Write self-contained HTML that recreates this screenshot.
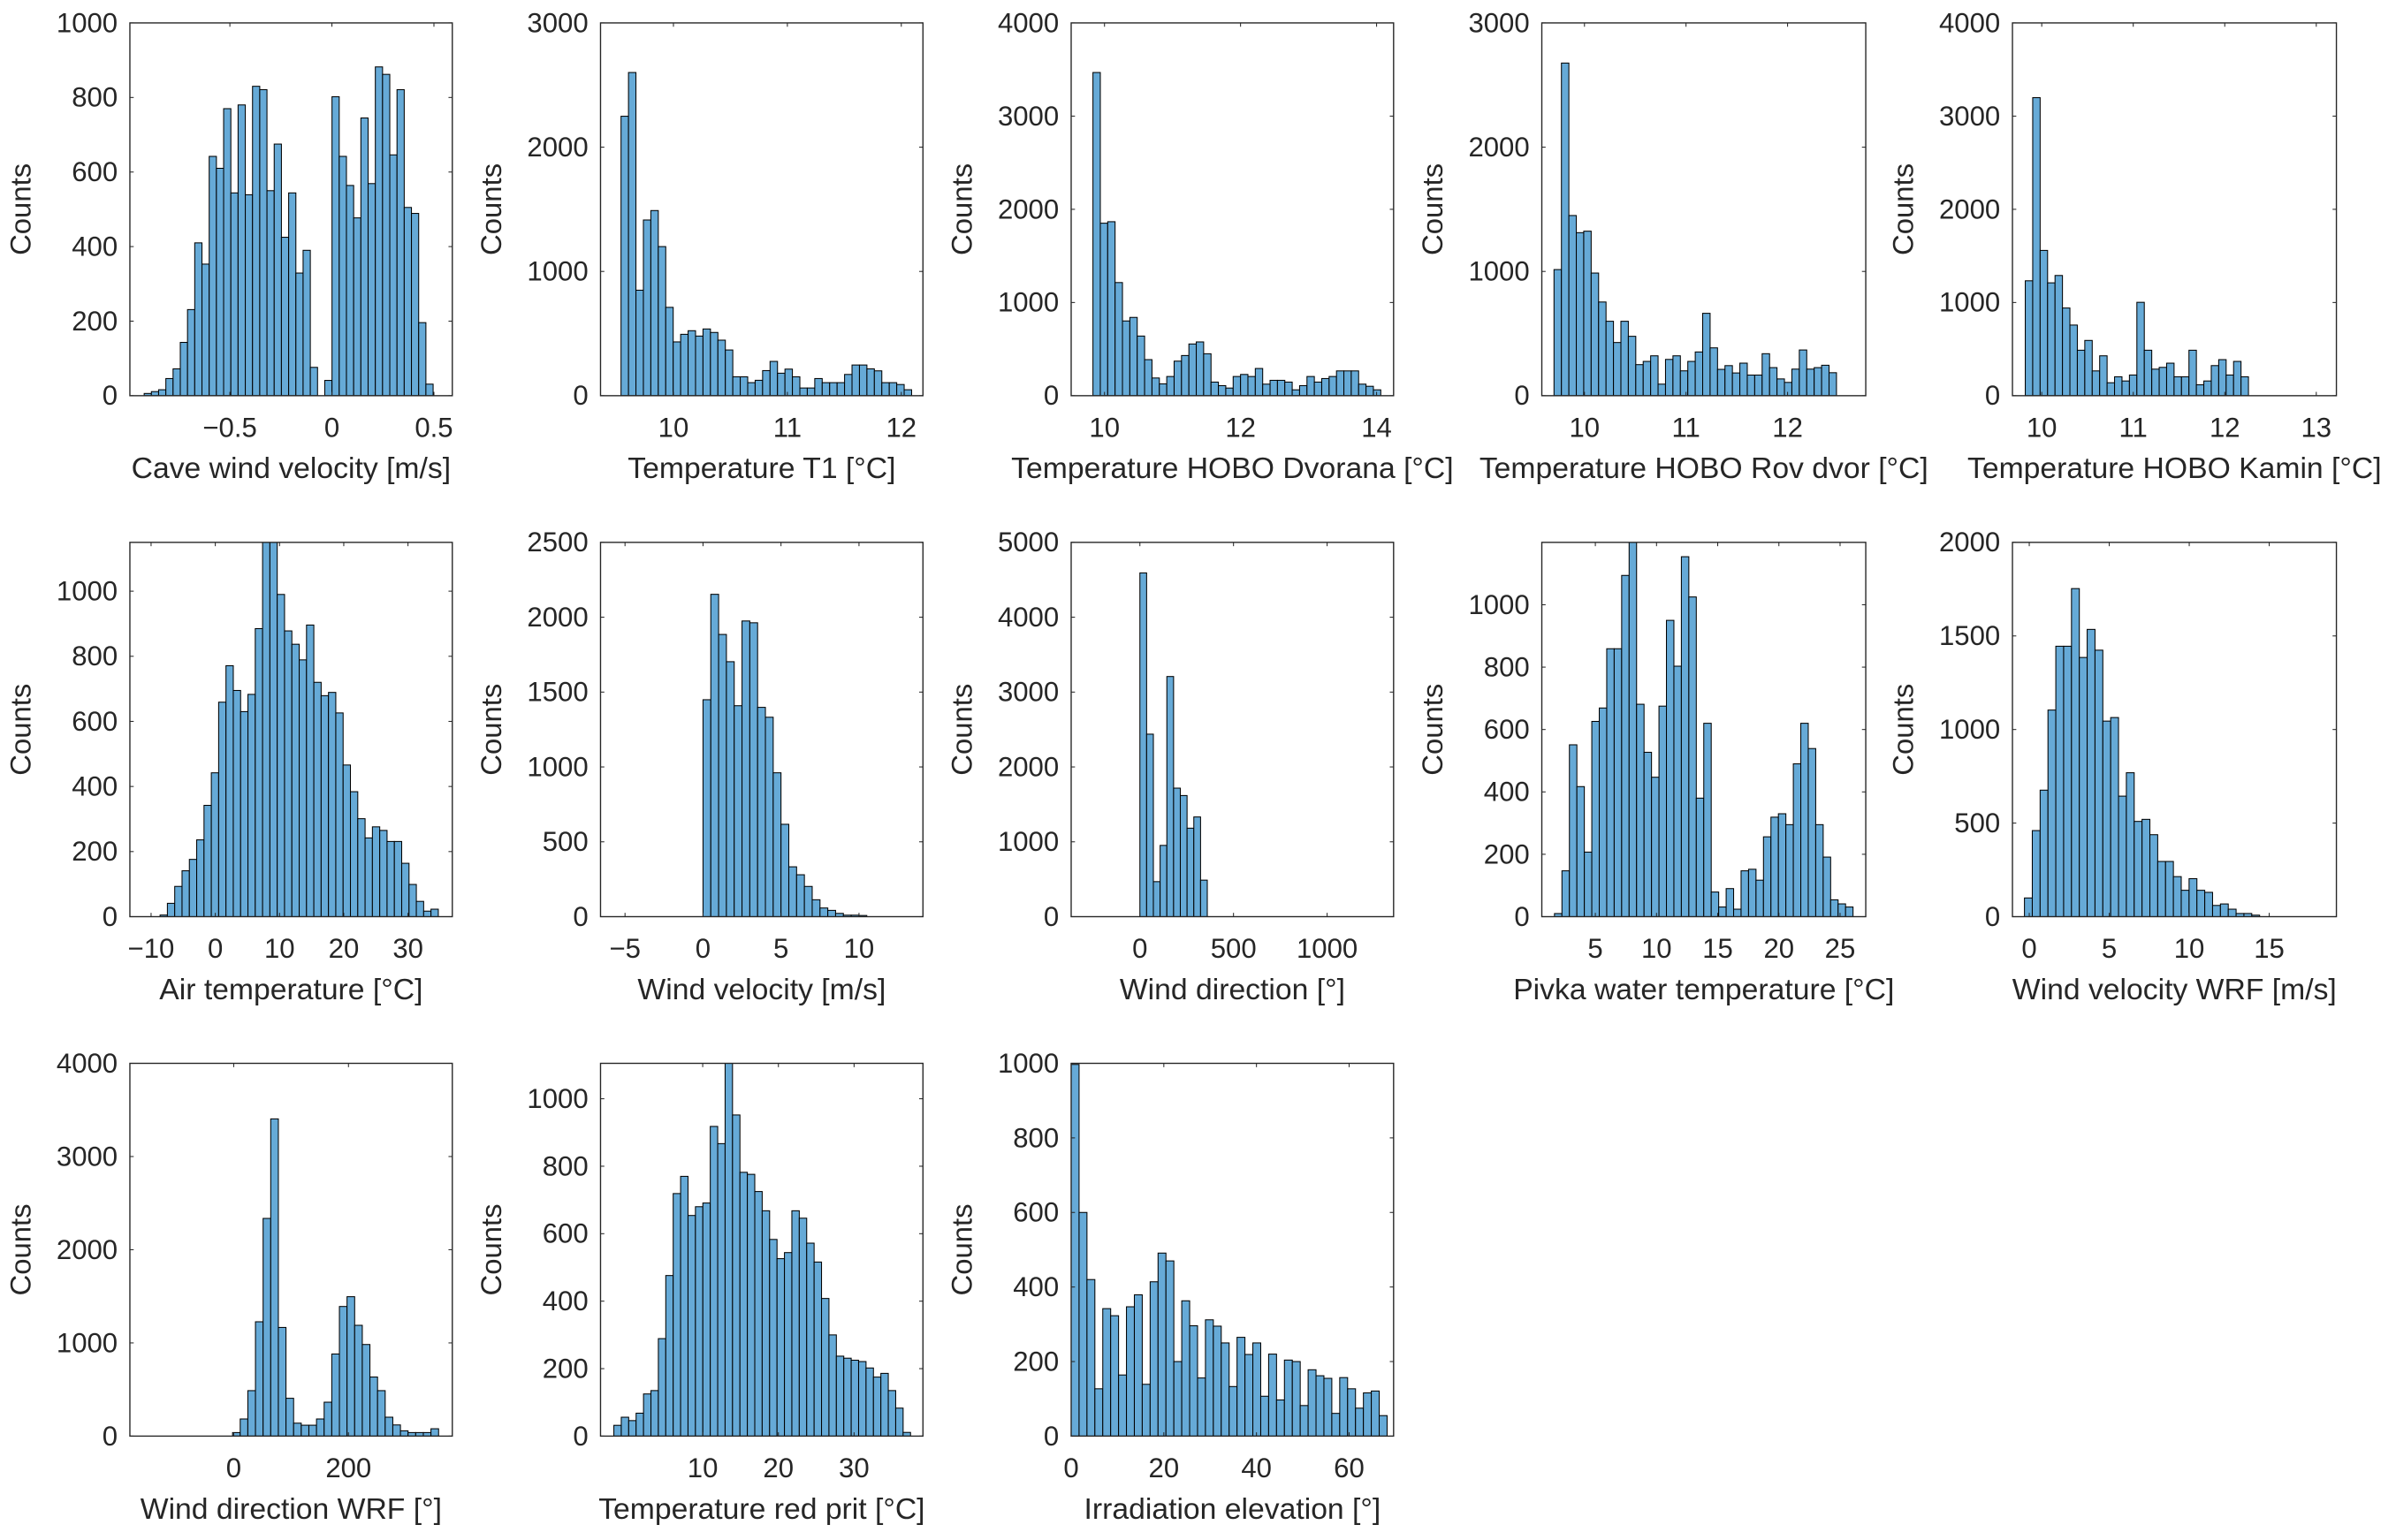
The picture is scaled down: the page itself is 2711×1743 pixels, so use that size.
<!DOCTYPE html>
<html><head><meta charset="utf-8"><style>
html,body{margin:0;padding:0;background:#fff;}
svg{display:block;}
text{font-family:"Liberation Sans",Arial,sans-serif;fill:#262626;}
</style></head><body>
<svg id="fig" width="2711" height="1743" viewBox="0 0 1568 1008" preserveAspectRatio="none" xmlns="http://www.w3.org/2000/svg"></svg>
<script>
// ---- data ----
const caveWindCounts=[6,11,16,46,72,143,231,410,353,642,610,770,544,780,539,830,821,550,675,425,544,329,390,76,0,41,802,642,564,477,745,569,882,862,646,821,505,489,196,31];
const t1Counts=[2249,2601,849,1414,1490,1200,711,433,494,523,480,537,509,447,368,152,152,105,124,202,276,181,214,152,62,62,138,105,105,105,171,247,247,216,200,105,105,90,48];
const dvoranaCounts=[3468,1851,1867,1214,802,840,640,387,190,127,206,371,431,555,577,450,146,108,82,206,228,206,292,124,165,165,146,63,108,206,146,184,206,266,266,266,124,101,63];
const rovDvorCounts=[1015,2677,1450,1312,1324,987,754,599,428,599,478,250,276,321,93,292,321,200,276,352,663,385,212,242,183,262,166,166,338,226,135,107,214,368,214,226,245,185];
const kaminCounts=[1233,3198,1559,1211,1290,941,758,488,593,266,428,139,203,158,222,1002,488,285,304,349,203,203,488,117,158,323,387,222,368,203];
const airTempCounts=[5,41,93,141,176,236,342,442,659,771,695,630,683,885,1200,1160,990,878,837,789,896,720,679,689,626,466,384,301,242,276,265,231,231,164,99,47,17,23];
const windVelCounts=[1449,2153,1885,1703,1409,1975,1963,1398,1332,961,617,333,280,202,113,58,42,22,10,10,8];
const windDirCounts=[4592,2438,468,952,3208,1717,1618,1182,1332,488];
const pivkaCounts=[10,147,551,417,207,626,669,859,859,1094,1230,681,527,447,675,950,803,1154,1025,380,620,79,31,90,24,147,152,117,256,319,330,295,490,620,539,295,191,54,41,31];
const wrfVelCounts=[100,460,676,1104,1445,1445,1753,1385,1535,1424,1045,1064,644,769,509,520,438,295,295,214,141,203,141,130,60,68,40,17,17,8];
const wrfDirCounts=[38,184,488,1227,2336,3404,1166,406,139,117,117,184,364,881,1391,1496,1189,983,634,488,203,120,57,38,38,38,79];
const redPritCounts=[32,56,46,68,125,135,289,476,719,770,654,680,691,918,867,1150,952,782,776,725,668,583,526,544,668,646,572,516,408,300,237,231,225,221,202,175,186,135,83,11];
const irradCounts=[997,600,420,127,342,323,164,347,379,139,414,491,470,200,363,296,156,312,295,250,133,265,219,250,107,220,97,204,200,82,178,162,155,61,157,127,75,116,121,55];

const binStarts=[-0.92,9.54,9.83,9.70,9.82,-8.6,0,0,1.66,-0.3,-2,-1.74,0];
const binWidths=[0.0354,0.0654,0.1085,0.0732,0.0813,1.14,0.5,36,0.61,0.49,13.3,0.98,1.705];

const xLabels=["Cave wind velocity [m/s]","Temperature T1 [°C]","Temperature HOBO Dvorana [°C]","Temperature HOBO Rov dvor [°C]","Temperature HOBO Kamin [°C]","Air temperature [°C]","Wind velocity [m/s]","Wind direction [°]","Pivka water temperature [°C]","Wind velocity WRF [m/s]","Wind direction WRF [°]","Temperature red prit [°C]","Irradiation elevation [°]"];
const xTickVals=[[-0.5,0,0.5],[10,11,12],[10,12,14],[10,11,12],[10,11,12,13],[-10,0,10,20,30],[-5,0,5,10],[0,500,1000],[5,10,15,20,25],[0,5,10,15],[0,200],[10,20,30],[0,20,40,60]];
const yTickVals=[[0,200,400,600,800,1000],[0,1000,2000,3000],[0,1000,2000,3000,4000],[0,1000,2000,3000],[0,1000,2000,3000,4000],[0,200,400,600,800,1000],[0,500,1000,1500,2000,2500],[0,1000,2000,3000,4000,5000],[0,200,400,600,800,1000],[0,500,1000,1500,2000],[0,1000,2000,3000,4000],[0,200,400,600,800,1000],[0,200,400,600,800,1000]];
const xLims=[[-0.99,0.59],[9.36,12.19],[9.51,14.25],[9.58,12.77],[9.68,13.22],[-13.3,36.9],[-6.57,14.1],[-367,1355],[0.625,27.1],[-1.05,19.2],[-181,381],[-3.5,39.1],[0,69.6]];
const yMaxes=[1000,3000,4000,3000,4000,1150,2500,5000,1200,2000,4000,1105,1000];
const allCounts=[caveWindCounts,t1Counts,dvoranaCounts,rovDvorCounts,kaminCounts,airTempCounts,windVelCounts,windDirCounts,pivkaCounts,wrfVelCounts,wrfDirCounts,redPritCounts,irradCounts];
const panelNames=["cave-wind-velocity","temperature-t1","hobo-dvorana","hobo-rov-dvor","hobo-kamin","air-temperature","wind-velocity","wind-direction","pivka-water-temperature","wind-velocity-wrf","wind-direction-wrf","temperature-red-prit","irradiation-elevation"];

// ---- layout ----
const colX=[[85,296],[393,604],[701,912],[1009,1221],[1317,1529]];
const rowY=[[15,259],[355,600],[696,940]];
const NS="http://www.w3.org/2000/svg";
const svg=document.getElementById('fig');
function mk(tag,attrs,parent){const e=document.createElementNS(NS,tag);for(const k in attrs)e.setAttribute(k,attrs[k]);parent.appendChild(e);return e;}
function fmt(v){return v<0?'\u2212'+Math.abs(v):String(v);}

for(let p=0;p<13;p++){
  const [x0,x1]=colX[p%5];const [yT,yB]=rowY[Math.floor(p/5)];
  const g=mk('g',{},svg);
  
  
  const [lo,hi]=xLims[p];
  const sx=v=>x0+(v-lo)/(hi-lo)*(x1-x0);
  const sy=v=>yB-v/yMaxes[p]*(yB-yT);
  const clip=mk('clipPath',{id:'c'+p},g);
  mk('rect',{x:x0,y:yT,width:x1-x0,height:yB-yT},clip);
  const bars=mk('g',{'clip-path':'url(#c'+p+')'},g);
  
  
  const counts=allCounts[p];
  counts.forEach((c,i)=>{
    if(c<=0)return;
    const a=sx(binStarts[p]+i*binWidths[p]),b=sx(binStarts[p]+(i+1)*binWidths[p]);
    const r=mk('rect',{x:a,y:sy(c),width:b-a,height:yB-sy(c),fill:'#66AAD7',stroke:'#000','stroke-width':0.6},bars);
    
    
  });
  const box=mk('rect',{x:x0,y:yT,width:x1-x0,height:yB-yT,fill:'none',stroke:'#262626','stroke-width':0.8},g);
  
  
  xTickVals[p].forEach(v=>{
    const X=sx(v);
    mk('line',{x1:X,x2:X,y1:yB,y2:yB-2.5,stroke:'#262626','stroke-width':0.6},g);
    mk('line',{x1:X,x2:X,y1:yT,y2:yT+2.5,stroke:'#262626','stroke-width':0.6},g);
    const t=mk('text',{x:X,y:yB+27,'font-size':18,'text-anchor':'middle'},g);
    t.textContent=fmt(v);
    
    
  });
  yTickVals[p].forEach(v=>{
    const Y=sy(v);
    mk('line',{x1:x0,x2:x0+2.5,y1:Y,y2:Y,stroke:'#262626','stroke-width':0.6},g);
    mk('line',{x1:x1,x2:x1-2.5,y1:Y,y2:Y,stroke:'#262626','stroke-width':0.6},g);
    const t=mk('text',{x:x0-8,y:Y+6,'font-size':18,'text-anchor':'end'},g);
    t.textContent=fmt(v);
    
    
  });
  const xl=mk('text',{x:(x0+x1)/2,y:yB+54,'font-size':19.5,'text-anchor':'middle'},g);
  xl.textContent=xLabels[p];
  
  
  const yc=(yT+yB)/2;
  const yl=mk('text',{x:x0-65,y:yc,'font-size':19,'text-anchor':'middle',transform:'rotate(-90 '+(x0-65)+' '+yc+')'},g);
  yl.textContent='Counts';
  
  
}
</script>
</body></html>
